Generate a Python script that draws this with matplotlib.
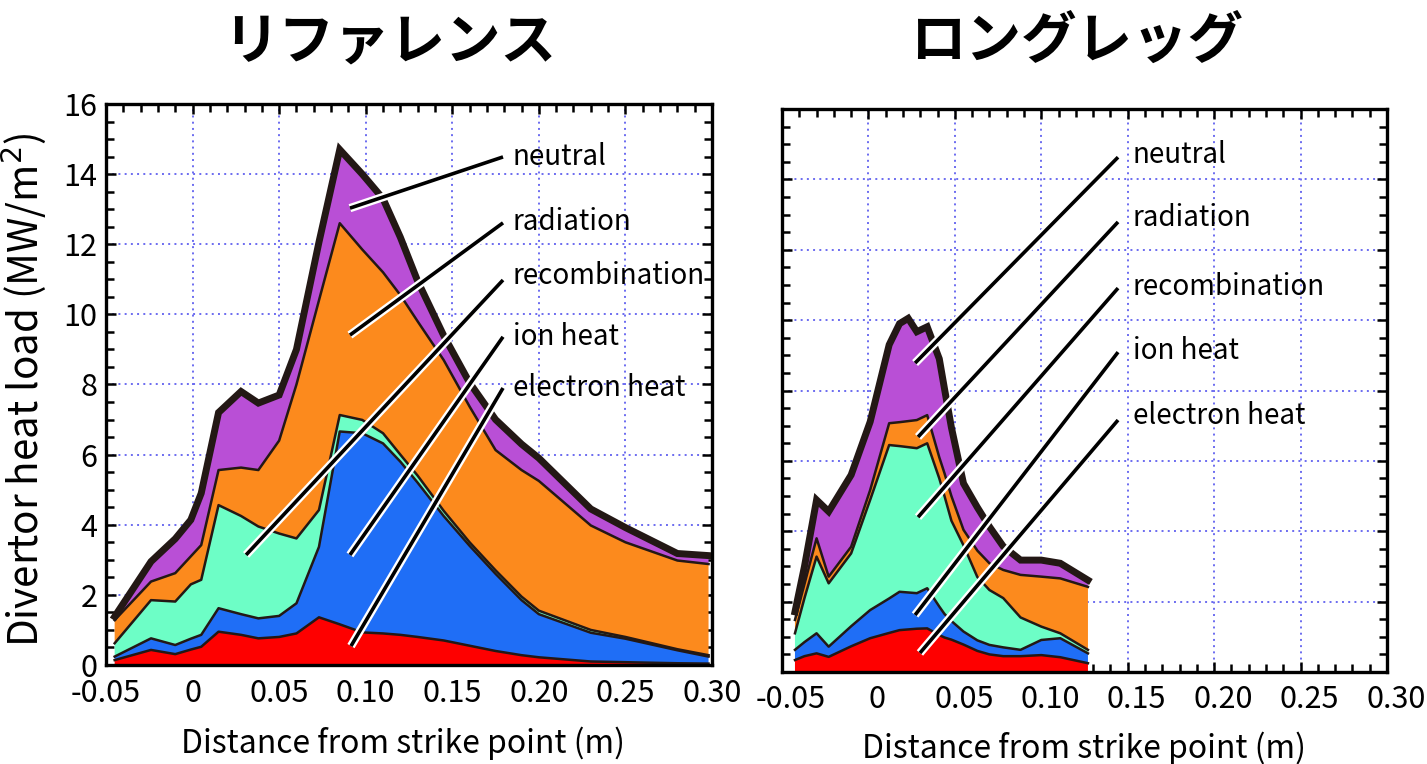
import numpy as np
import matplotlib
matplotlib.use("Agg")
import matplotlib.pyplot as plt
import matplotlib.patheffects as pe
from matplotlib.ticker import MultipleLocator
from matplotlib.transforms import ScaledTranslation

plt.rcParams['font.family'] = ['Noto Sans CJK JP', 'DejaVu Sans']

# heat load components (MW/m^2) vs distance from strike point (m), reference divertor
ref_x = [-0.045, -0.024, -0.010, -0.001, 0.005, 0.015, 0.028, 0.038, 0.050, 0.060,
         0.073, 0.085, 0.098, 0.110, 0.120, 0.130, 0.145, 0.160, 0.175, 0.190,
         0.200, 0.230, 0.250, 0.280, 0.298]
ref_electron = [0.14, 0.43, 0.31, 0.44, 0.52, 0.95, 0.86, 0.76, 0.80, 0.90,
                1.36, 1.16, 0.93, 0.90, 0.86, 0.80, 0.70, 0.55, 0.40, 0.28,
                0.22, 0.10, 0.08, 0.05, 0.04]
ref_ion = [0.10, 0.33, 0.26, 0.31, 0.34, 0.67, 0.59, 0.57, 0.60, 0.86,
           2.01, 5.50, 5.68, 5.42, 4.94, 4.40, 3.55, 2.85, 2.20, 1.57,
           1.23, 0.82, 0.67, 0.37, 0.20]
ref_recomb = [0.38, 1.09, 1.24, 1.55, 1.57, 2.94, 2.80, 2.62, 2.35, 1.85,
              1.05, 0.47, 0.38, 0.29, 0.20, 0.20, 0.15, 0.10, 0.10, 0.10,
              0.10, 0.08, 0.05, 0.03, 0.04]
ref_radiation = [0.66, 0.53, 0.81, 0.80, 0.99, 1.00, 1.38, 1.61, 2.65, 4.39,
                 5.98, 5.47, 4.86, 4.59, 4.55, 4.40, 4.30, 3.87, 3.43, 3.61,
                 3.70, 2.98, 2.70, 2.53, 2.60]
ref_neutral = [0.10, 0.57, 0.98, 1.04, 1.48, 1.64, 2.17, 1.91, 1.30, 1.00,
               1.66, 2.10, 2.15, 2.10, 1.65, 1.15, 0.70, 0.68, 0.87, 0.74,
               0.65, 0.47, 0.42, 0.20, 0.24]

# long-leg divertor
long_x = [-0.0425, -0.037, -0.030, -0.023, -0.010, 0.001, 0.012, 0.018, 0.023, 0.028,
          0.034, 0.041, 0.044, 0.048, 0.055, 0.063, 0.070, 0.078, 0.088, 0.100,
          0.111, 0.127]
long_electron = [0.34, 0.45, 0.53, 0.43, 0.73, 0.96, 1.11, 1.19, 1.21, 1.23,
                 1.24, 1.05, 0.98, 0.92, 0.78, 0.60, 0.50, 0.45, 0.45, 0.48,
                 0.42, 0.25]
long_ion = [0.29, 0.40, 0.57, 0.29, 0.57, 0.80, 0.98, 1.09, 1.05, 1.01,
            1.14, 0.81, 0.67, 0.53, 0.37, 0.30, 0.27, 0.25, 0.18, 0.43,
            0.54, 0.28]
long_recomb = [0.47, 1.25, 2.18, 1.80, 2.07, 3.13, 4.36, 4.14, 4.13, 4.12,
               4.12, 3.64, 3.35, 2.85, 2.45, 1.80, 1.56, 1.40, 0.92, 0.38,
               0.14, 0.10]
long_radiation = [0.38, 0.40, 0.52, 0.19, 0.19, 0.28, 0.62, 0.68, 0.74, 0.80,
                  0.80, 0.60, 0.65, 0.70, 0.44, 0.75, 0.76, 0.80, 1.21, 1.42,
                  1.56, 1.79]
long_neutral = [0.23, 0.50, 1.09, 1.85, 2.04, 1.94, 2.23, 2.80, 2.92, 2.51,
                2.51, 2.80, 2.40, 1.95, 1.32, 1.23, 1.04, 0.67, 0.42, 0.47,
                0.43, 0.19]

labels = ["electron heat", "ion heat", "recombination", "radiation", "neutral"]
colors = ["#fe0000", "#1f6ef6", "#6dfec6", "#fc8a1d", "#b94fd6"]
edge = "#231815"
xtick_text = ["-0.05", "0", "0.05", "0.10", "0.15", "0.20", "0.25", "0.30"]

# leader lines: (text pos, line start, line end) in data units
ref_leaders = {
    "neutral": ((0.185, 14.49), (0.1793, 14.49), (0.0909, 13.03)),
    "radiation": ((0.185, 12.64), (0.1793, 12.61), (0.0909, 9.41)),
    "recombination": ((0.185, 11.10), (0.1793, 10.98), (0.0309, 3.14)),
    "ion heat": ((0.185, 9.36), (0.1793, 9.36), (0.0909, 3.14)),
    "electron heat": ((0.185, 7.90), (0.1793, 7.90), (0.0915, 0.54)),
}
long_leaders = {
    "neutral": ((0.153, 14.69), (0.1444, 14.63), (0.027, 8.78)),
    "radiation": ((0.153, 12.90), (0.1444, 12.79), (0.0287, 6.68)),
    "recombination": ((0.153, 10.94), (0.1444, 10.91), (0.0287, 4.40)),
    "ion heat": ((0.153, 9.12), (0.1444, 9.09), (0.027, 1.62)),
    "electron heat": ((0.153, 7.27), (0.1444, 7.16), (0.0298, 0.54)),
}


def draw_stack(ax, x, parts, leaders):
    ax.stackplot(x, *parts, colors=colors, linewidth=0, zorder=2)
    tops = np.cumsum(np.array(parts), axis=0)
    for k, top in enumerate(tops):
        if k == len(tops) - 1:
            ax.plot(x, top, color=edge, lw=5.0, zorder=4, solid_joinstyle='miter')
        else:
            ax.plot(x, top, color=edge, lw=1.8, zorder=3)
    for name, (txt, start, end) in leaders.items():
        ax.plot([start[0], end[0]], [start[1], end[1]], color='black', lw=2.6,
                solid_capstyle='butt', zorder=5, clip_on=False,
                path_effects=[pe.Stroke(linewidth=6.0, foreground='white'),
                              pe.Normal()])
        ax.text(txt[0], txt[1], name, fontsize=20, va='center', ha='left',
                zorder=6)


def style_axes(ax):
    ax.set_xlim(-0.05, 0.30)
    ax.set_ylim(0, 16)
    ax.set_xticks(np.arange(-0.05, 0.301, 0.05))
    ax.set_xticklabels(xtick_text)
    ax.xaxis.set_minor_locator(MultipleLocator(0.01))
    ax.yaxis.set_major_locator(MultipleLocator(2))
    ax.yaxis.set_minor_locator(MultipleLocator(0.5))
    ax.tick_params(which='both', direction='in', top=True, right=True,
                   width=1.8, color='black')
    ax.tick_params(which='major', length=7, labelsize=22)
    ax.tick_params(axis='x', which='major', pad=9)
    ax.tick_params(axis='y', which='major', pad=6)
    ax.tick_params(which='minor', length=6)
    for s in ax.spines.values():
        s.set_linewidth(2.4)
        s.set_zorder(7)
    ax.grid(True, which='major', color='#6b6bf0', linestyle=(0, (1, 2.2)),
            lw=1.4, zorder=1)
    ax.set_axisbelow(True)
    ax.set_xlabel("Distance from strike point (m)", fontsize=23)


fig = plt.figure(figsize=(14.27, 7.64), dpi=100)
ax1 = fig.add_axes([106 / 1427, 1 - 665 / 764, 606 / 1427, 561 / 764])
ax2 = fig.add_axes([782 / 1427, 1 - 672 / 764, 605 / 1427, 563 / 764])

for ax in (ax1, ax2):
    style_axes(ax)

draw_stack(ax1, ref_x, [ref_electron, ref_ion, ref_recomb, ref_radiation,
                        ref_neutral], ref_leaders)
draw_stack(ax2, long_x, [long_electron, long_ion, long_recomb, long_radiation,
                         long_neutral], long_leaders)

ax1.set_ylabel("Divertor heat load (MW/m$^2$)", fontsize=29)
ax1.yaxis.set_label_coords(-0.095, 0.49)
ax1.xaxis.set_label_coords(0.49, -0.11)
ax2.xaxis.set_label_coords(0.5, -0.105)
ax2.tick_params(labelleft=False)

# right panel tick labels sit slightly to the right of their ticks
shift = ScaledTranslation(9 / 100, 0, fig.dpi_scale_trans)
for lab in ax2.get_xticklabels():
    lab.set_transform(lab.get_transform() + shift)

fig.text(390 / 1427, 1 - 42 / 764, "リファレンス", fontsize=40, weight='bold',
         ha='center', va='center')
fig.text(1077 / 1427, 1 - 42 / 764, "ロングレッグ", fontsize=40, weight='bold',
         ha='center', va='center')

fig.savefig("out.png", dpi=100)
